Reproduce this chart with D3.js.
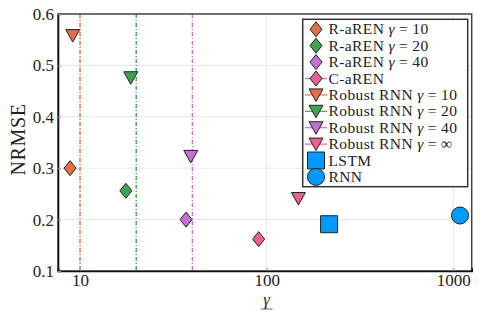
<!DOCTYPE html>
<html>
  <head>
    <script src="https://cdn.jsdelivr.net/npm/d3@7"></script>
    <style>
      * { margin: 0; padding: 0; }
      body { background: white; }
      svg { display: block; font-family: "Liberation Serif", serif; }
    </style>
  </head>
  <body>
    <svg id="chart" width="479" height="319"></svg>
    <script>
      const names = [
        "R-aREN γ = 10", "R-aREN γ = 20", "R-aREN γ = 40", "C-aREN",
        "Robust RNN γ = 10", "Robust RNN γ = 20", "Robust RNN γ = 40", "Robust RNN γ = ∞",
        "LSTM", "RNN"
      ];
      const gammaVals = [8.84, 17.6, 37.0, 90.6, 9.14, 18.7, 39.2, 148, 216, 1086];
      const nrmseVals = [0.300, 0.256, 0.200, 0.162, 0.558, 0.476, 0.323, 0.241, 0.191, 0.208];
      const markers = ["diamond", "diamond", "diamond", "diamond", "dtri", "dtri", "dtri", "dtri", "square", "circle"];
      const colors = ["#E36F47", "#3EA44E", "#C371D2", "#ED5E93", "#E36F47", "#3EA44E", "#C371D2", "#ED5E93", "#009AFA", "#009AFA"];
      const legendLine = [false, false, false, true, true, true, true, true, false, false];
      const refGammas = [10, 20, 40];
      const refColors = ["#E36F47", "#3EA44E", "#C371D2"];
      const yTicks = [0.1, 0.2, 0.3, 0.4, 0.5, 0.6];
      const xTicks = [10, 100, 1000];

      const L = 58, R = 471.7, T = 14, B = 271;
      const svg = d3.select("#chart");
      const x = d3.scaleLog().domain([7.62, 1255]).range([L, R]);
      const y = d3.scaleLinear().domain([0.1, 0.6]).range([B, T]);

      // grid
      svg.append("g").selectAll("line").data(yTicks).join("line")
        .attr("x1", L).attr("x2", R).attr("y1", d => y(d)).attr("y2", d => y(d))
        .attr("stroke", "#e6e6e6").attr("stroke-width", 1);
      svg.append("g").selectAll("line").data(xTicks).join("line")
        .attr("y1", T).attr("y2", B).attr("x1", d => x(d)).attr("x2", d => x(d))
        .attr("stroke", "#e6e6e6").attr("stroke-width", 1);

      // reference lines
      svg.append("g").selectAll("line").data(refGammas).join("line")
        .attr("y1", T).attr("y2", B).attr("x1", d => x(d)).attr("x2", d => x(d))
        .attr("stroke", (d, i) => refColors[i]).attr("stroke-width", 1.4)
        .attr("stroke-dasharray", "4,2,1,2");

      // frame
      svg.append("rect").attr("x", L).attr("y", T).attr("width", R - L).attr("height", B - T)
        .attr("fill", "none").attr("stroke", "#444").attr("stroke-width", 1.5);

      const xAxis = svg.append("g").attr("transform", `translate(0,${B})`)
        .call(d3.axisBottom(x).tickValues(xTicks).tickFormat(d3.format("d")).tickSize(-3).tickPadding(3));
      const yAxis = svg.append("g").attr("transform", `translate(${L},0)`)
        .call(d3.axisLeft(y).tickValues(yTicks).tickFormat(d3.format(".1f")).tickSize(-3).tickPadding(4));
      [xAxis, yAxis].forEach(a => {
        a.select(".domain").attr("stroke", "#111").attr("stroke-width", 1.6);
        a.selectAll(".tick line").attr("stroke", "#999");
        a.selectAll("text").attr("font-family", "Liberation Serif").attr("font-size", 17).attr("fill", "#222");
      });

      // axis labels
      svg.append("text").attr("transform", `translate(25,${(T + B) / 2 - 3}) rotate(-90)`)
        .attr("text-anchor", "middle").attr("font-size", 20).attr("letter-spacing", 0.6)
        .attr("fill", "#222").text("NRMSE");
      svg.append("text").attr("x", x(100)).attr("y", 305).attr("text-anchor", "middle")
        .attr("font-size", 17).attr("font-style", "italic").attr("fill", "#222").text("γ");
      svg.append("line").attr("x1", x(100) - 6).attr("x2", x(100) + 6).attr("y1", 309).attr("y2", 309)
        .attr("stroke", "#444").attr("stroke-width", 0.8);

      function markerPath(type) {
        if (type === "diamond") return "M0,-7.5L6,0L0,7.5L-6,0Z";
        if (type === "dtri") return "M-7,-6L7,-6L0,6.5Z";
        if (type === "square") return "M-8.5,-8.5H8.5V8.5H-8.5Z";
        return d3.arc()({ innerRadius: 0, outerRadius: 8.5, startAngle: 0, endAngle: 2 * Math.PI });
      }

      // points
      svg.append("g").selectAll("path").data(names).join("path")
        .attr("transform", (d, i) => `translate(${x(gammaVals[i])},${y(nrmseVals[i])})`)
        .attr("d", (d, i) => markerPath(markers[i]))
        .attr("fill", (d, i) => colors[i]).attr("stroke", "#222").attr("stroke-width", 1);

      // legend
      const lx = 302.7, ly = 19.3, lw = 165, lh = 167.4, step = 16.4;
      const leg = svg.append("g");
      leg.append("rect").attr("x", lx).attr("y", ly).attr("width", lw).attr("height", lh)
        .attr("fill", "white").attr("stroke", "#333").attr("stroke-width", 1.5);
      const rows = leg.selectAll("g.row").data(names).join("g").attr("class", "row")
        .attr("transform", (d, i) => `translate(316,${29.3 + i * step})`);
      rows.filter((d, i) => legendLine[i]).append("line")
        .attr("x1", -11).attr("x2", 11).attr("stroke", (d) => colors[names.indexOf(d)]).attr("stroke-width", 1.2);
      rows.append("path").attr("d", (d, i) => markerPath(markers[i]))
        .attr("fill", (d, i) => colors[i]).attr("stroke", "#222").attr("stroke-width", 1);
      const txt = rows.append("text").attr("x", 12.5).attr("y", 5).attr("font-size", 15.5)
        .attr("letter-spacing", 0.4).attr("fill", "#222");
      txt.each(function (d) {
        const t = d3.select(this);
        const k = d.indexOf("γ");
        if (k < 0) { t.text(d); return; }
        const rest = d.slice(k + 1).replace("=", "").trim();
        t.append("tspan").text(d.slice(0, k).trimEnd() + " ");
        t.append("tspan").attr("font-style", "italic").text("γ");
        t.append("tspan").attr("dx", 4).text("=");
        t.append("tspan").attr("dx", 4).text(rest);
      });
    </script>
  </body>
</html>
